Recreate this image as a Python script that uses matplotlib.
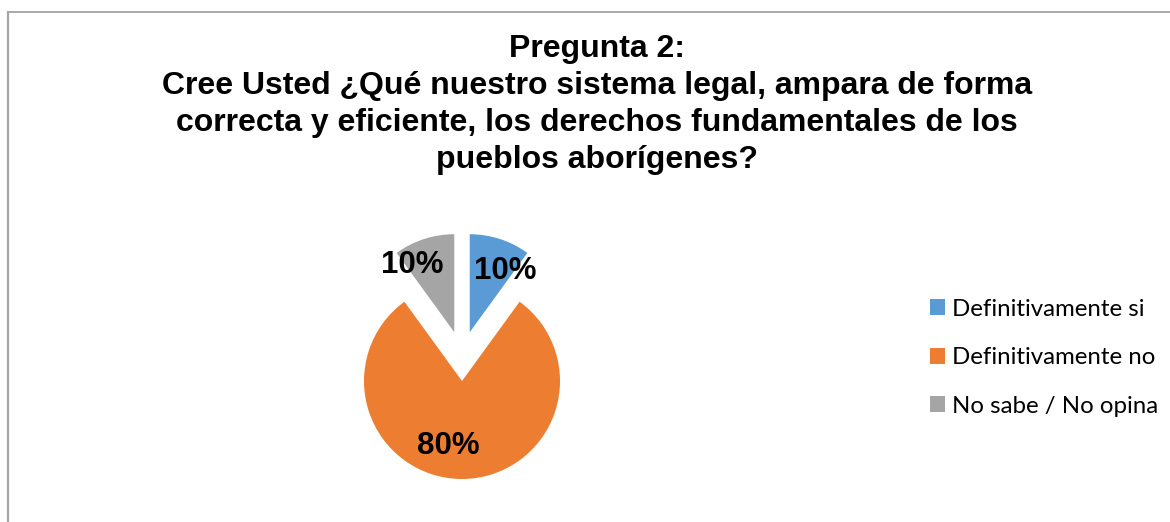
import matplotlib
matplotlib.use("Agg")
import matplotlib.pyplot as plt
from matplotlib.lines import Line2D
import numpy as np

# Survey answers for question 2
categories = ["Definitivamente si", "Definitivamente no", "No sabe / No opina"]
shares = [10, 80, 10]
colors = ["#5B9BD5", "#ED7D31", "#A5A5A5"]

title = ("Pregunta 2:\n"
         "Cree Usted ¿Qué nuestro sistema legal, ampara de forma\n"
         "correcta y eficiente, los derechos fundamentales de los\n"
         "pueblos aborígenes?")

W, H = 1170, 522
fig = plt.figure(figsize=(W / 100, H / 100), dpi=100, facecolor="white")

# frame lines (top and left only are visible in the crop)
fig.add_artist(Line2D([8 / W, 1], [1 - 12 / H, 1 - 12 / H], transform=fig.transFigure,
                      color="#9a9a9a", linewidth=1.2))
fig.add_artist(Line2D([8 / W, 8 / W], [0, 1 - 12 / H], transform=fig.transFigure,
                      color="#a6a6a6", linewidth=1.6))

fig.text(597 / W, 1 - 34 / H, title, ha="center", va="top", fontsize=23,
         fontweight="bold", family="Liberation Sans", linespacing=1.3)

# pie axes: 300x300 px centred on (462, 356)
cx, cy, size = 462, 356, 300
ax = fig.add_axes([(cx - size / 2) / W, (H - cy - size / 2) / H, size / W, size / H])

wedges, texts, autotexts = ax.pie(
    shares, colors=colors, startangle=90, counterclock=False,
    explode=[0.25, 0.25, 0.25], radius=0.98,
    autopct=lambda p: "%d%%" % round(p), pctdistance=0.9,
    wedgeprops=dict(linewidth=0),
    textprops=dict(fontsize=22.5, fontweight="bold", family="Liberation Sans", color="black"),
)
ax.set_xlim(-1.5, 1.5)
ax.set_ylim(-1.5, 1.5)
ax.set_aspect("equal")
ax.axis("off")

# label placement like Excel's best fit
label_pos = [(0.43, 0.85), (-0.14, -0.90), (-0.50, 0.91)]
for t, (x, y) in zip(autotexts, label_pos):
    t.set_position((x, y))
    t.set_ha("center")
    t.set_va("center")

fig.legend(wedges, categories, loc="upper left", bbox_to_anchor=(920 / W, 1 - 289 / H),
           frameon=False, handlelength=0.65, handleheight=0.65, handletextpad=0.3,
           labelspacing=1.15, prop=dict(family="Lato", size=17.3), borderaxespad=0)

fig.savefig("out.png", dpi=100, facecolor="white")
